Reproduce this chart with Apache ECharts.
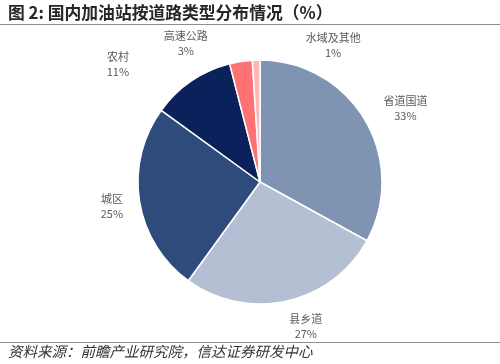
<!DOCTYPE html>
<html>
<head>
<meta charset="utf-8">
<script src="https://cdn.jsdelivr.net/npm/echarts@6/dist/echarts.min.js"></script>
<style>
html,body{margin:0;padding:0;background:#fff;}
#chart{width:500px;height:364px;}
</style>
</head>
<body>
<div id="chart"></div>
<script>
const categories = ['省道国道', '县乡道', '城区', '农村', '高速公路', '水域及其他'];
const values = [33, 27, 25, 11, 3, 1];
const colors = ['#7F93B3', '#B4BFD3', '#2F4B7B', '#0B215B', '#FF7274', '#FFB5BA'];

const labelOffsets = [[12, 5], [12, -7], [5, 0], [-55, 11], [-50, 14], [78, 18]];
const cjk = '"Noto Sans CJK SC", "Noto Sans", sans-serif';

const chart = echarts.init(document.getElementById('chart'), null, {renderer: 'canvas'});
const pieData = categories.map((c, i) => ({
  name: c, value: values[i], itemStyle: {color: colors[i]}
}));
const labelData = categories.map((c, i) => ({
  name: c, value: values[i], label: {offset: labelOffsets[i]}
}));

chart.setOption({
  animation: false,
  backgroundColor: '#fff',
  graphic: [
    {type: 'text', left: 8, top: 4, style: {text: '图 2: 国内加油站按道路类型分布情况（%）', font: 'bold 16.8px ' + cjk, fill: '#262626'}},
    {type: 'line', shape: {x1: 0, y1: 24.5, x2: 500, y2: 24.5}, style: {stroke: '#8c8c8c', lineWidth: 1.2}},
    {type: 'line', shape: {x1: 0, y1: 342.5, x2: 500, y2: 342.5}, style: {stroke: '#8c8c8c', lineWidth: 1.2}},
    {type: 'text', left: 8, top: 344, style: {text: '资料来源：前瞻产业研究院，信达证券研发中心', font: 'italic 14.5px ' + cjk, fill: '#333'}}
  ],
  series: [
    {
      type: 'pie',
      center: [260, 182],
      radius: [0, 122],
      startAngle: 90,
      clockwise: true,
      silent: true,
      label: {show: false},
      labelLine: {show: false},
      itemStyle: {borderColor: '#fff', borderWidth: 1.5},
      data: pieData
    },
    {
      type: 'pie',
      center: [260, 182],
      radius: [0, 304],
      startAngle: 90,
      clockwise: true,
      silent: true,
      itemStyle: {color: 'rgba(0,0,0,0)', borderWidth: 0},
      labelLine: {show: false},
      label: {
        show: true,
        position: 'inside',
        formatter: '{b}\n{c}%',
        color: '#595959',
        fontSize: 11,
        lineHeight: 15,
        fontFamily: cjk,
        align: 'center'
      },
      data: labelData
    }
  ]
});
</script>
</body>
</html>
